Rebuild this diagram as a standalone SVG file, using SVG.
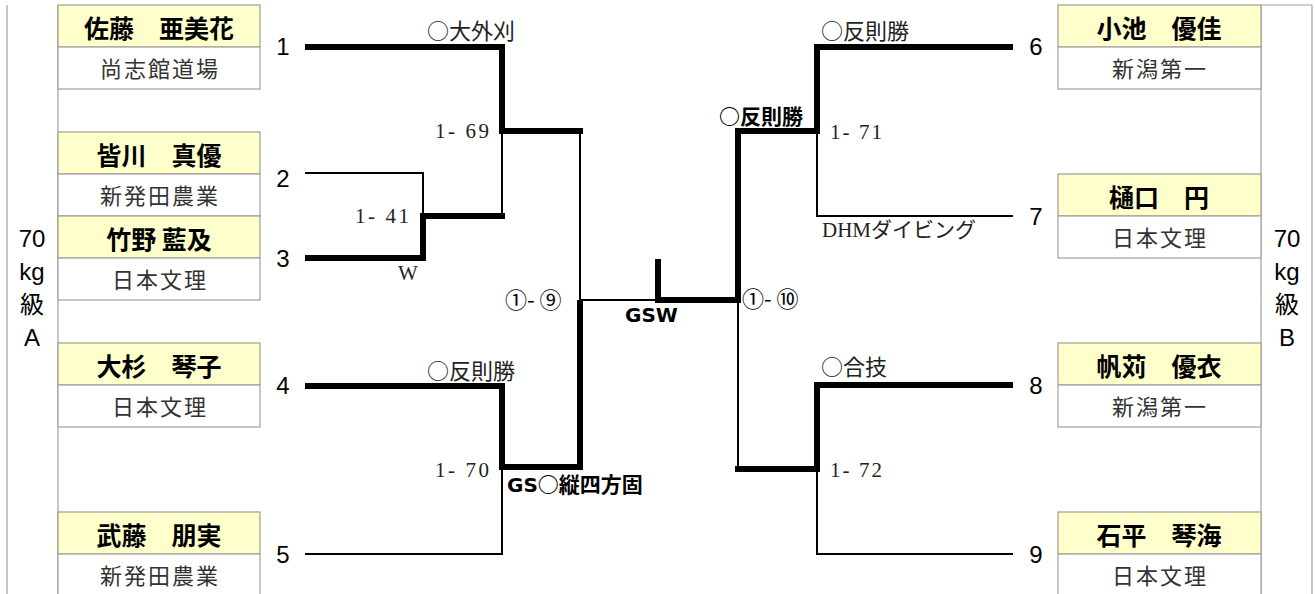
<svg xmlns="http://www.w3.org/2000/svg" width="1315" height="594" viewBox="0 0 1315 594">
<style>
.bg{fill:#ffffff}
.frame{stroke:#a0a0a0;stroke-width:1.2;fill:none}
.nm{fill:#ffffcc;stroke:#9e9e8a;stroke-width:1.2}
.tm{fill:#ffffff;stroke:#a0a0a0;stroke-width:1.2}
.name{font-family:"Noto Sans CJK JP","Liberation Sans",sans-serif;font-weight:bold;font-size:25px;fill:#000;text-anchor:middle;dominant-baseline:central}
.team{font-family:"Liberation Serif","Noto Sans CJK JP",serif;font-size:22px;fill:#333;text-anchor:middle;dominant-baseline:central;letter-spacing:2px}
.num{font-family:"Liberation Sans",sans-serif;font-size:24px;fill:#000;text-anchor:middle}
.cls{font-family:"Liberation Sans","Noto Sans CJK JP",sans-serif;font-size:24px;fill:#000;text-anchor:middle}
.sr{font-family:"Liberation Serif","Noto Sans CJK JP",serif;font-size:21px;fill:#222}
.jp{font-family:"Noto Sans CJK JP",sans-serif;font-size:22px;fill:#222}
.bd{font-family:"DejaVu Sans","Noto Sans CJK JP",sans-serif;font-size:20px;font-weight:bold;fill:#000}
.bj{font-family:"Noto Sans CJK JP",sans-serif;font-size:21px;font-weight:bold;fill:#000}
.cr{font-family:"Noto Sans CJK JP","Liberation Sans",sans-serif;font-size:22px;fill:#000}
.thick{stroke:#000;stroke-width:6;fill:none;stroke-linecap:square}
.thin{stroke:#000;stroke-width:2;fill:none}
</style>
<rect class="bg" x="0" y="0" width="1315" height="594"/>

<g id="frame-left">
<line class="frame" x1="7" y1="5" x2="7" y2="594"/>
<line class="frame" x1="58" y1="5" x2="58" y2="594"/>
<text class="cls" x="32" y="247">70</text>
<text class="cls" x="32" y="280">kg</text>
<text class="cls" x="32" y="313">級</text>
<text class="cls" x="32" y="346">A</text>
</g>
<g id="frame-right">
<line class="frame" x1="1261" y1="5" x2="1312" y2="5"/>
<line class="frame" x1="1261" y1="5" x2="1261" y2="594"/>
<line class="frame" x1="1312" y1="5" x2="1312" y2="594"/>
<text class="cls" x="1287" y="247">70</text>
<text class="cls" x="1287" y="280">kg</text>
<text class="cls" x="1287" y="313">級</text>
<text class="cls" x="1287" y="346">B</text>
</g>

<g id="p1">
<rect class="nm" x="58" y="5" width="202" height="42"/>
<rect class="tm" x="58" y="47" width="202" height="42"/>
<text class="name" x="159" y="27">佐藤　亜美花</text>
<text class="team" x="160" y="69">尚志館道場</text>
<text class="num" x="283" y="55">1</text>
</g>
<g id="p2">
<rect class="nm" x="58" y="132" width="202" height="42"/>
<rect class="tm" x="58" y="174" width="202" height="42"/>
<text class="name" x="159" y="154">皆川　真優</text>
<text class="team" x="160" y="196">新発田農業</text>
<text class="num" x="283" y="187">2</text>
</g>
<g id="p3">
<rect class="nm" x="58" y="216" width="202" height="42"/>
<rect class="tm" x="58" y="258" width="202" height="42"/>
<text class="name" x="159" y="238">竹野 藍及</text>
<text class="team" x="160" y="280">日本文理</text>
<text class="num" x="283" y="267">3</text>
</g>
<g id="p4">
<rect class="nm" x="58" y="343" width="202" height="42"/>
<rect class="tm" x="58" y="385" width="202" height="42"/>
<text class="name" x="159" y="365">大杉　琴子</text>
<text class="team" x="160" y="407">日本文理</text>
<text class="num" x="283" y="394">4</text>
</g>
<g id="p5">
<rect class="nm" x="58" y="512" width="202" height="42"/>
<rect class="tm" x="58" y="554" width="202" height="42"/>
<text class="name" x="159" y="534">武藤　朋実</text>
<text class="team" x="160" y="576">新発田農業</text>
<text class="num" x="283" y="563">5</text>
</g>

<g id="p6">
<rect class="nm" x="1058" y="5" width="203" height="42"/>
<rect class="tm" x="1058" y="47" width="203" height="42"/>
<text class="name" x="1159" y="27">小池　優佳</text>
<text class="team" x="1160" y="69">新潟第一</text>
<text class="num" x="1036" y="55">6</text>
</g>
<g id="p7">
<rect class="nm" x="1058" y="174" width="203" height="42"/>
<rect class="tm" x="1058" y="216" width="203" height="42"/>
<text class="name" x="1159" y="196">樋口　円</text>
<text class="team" x="1160" y="238">日本文理</text>
<text class="num" x="1036" y="225">7</text>
</g>
<g id="p8">
<rect class="nm" x="1058" y="343" width="203" height="42"/>
<rect class="tm" x="1058" y="385" width="203" height="42"/>
<text class="name" x="1159" y="365">帆苅　優衣</text>
<text class="team" x="1160" y="407">新潟第一</text>
<text class="num" x="1036" y="394">8</text>
</g>
<g id="p9">
<rect class="nm" x="1058" y="512" width="203" height="42"/>
<rect class="tm" x="1058" y="554" width="203" height="42"/>
<text class="name" x="1159" y="534">石平　琴海</text>
<text class="team" x="1160" y="576">日本文理</text>
<text class="num" x="1036" y="563">9</text>
</g>

<g id="connectors">
<polyline class="thin" points="305,173 423,173 423,216"/>
<line class="thin" x1="502" y1="131" x2="502" y2="216"/>
<polyline class="thin" points="305,554 502,554 502,467"/>
<line class="thin" x1="580" y1="131" x2="580" y2="300"/>
<line class="thin" x1="580" y1="300" x2="658" y2="300"/>
<polyline class="thin" points="817,131 817,216 1013,216"/>
<line class="thin" x1="738" y1="300" x2="738" y2="469"/>
<polyline class="thin" points="817,469 817,554 1013,554"/>
<polyline class="thick" points="308,47 502,47 502,131 580,131"/>
<polyline class="thick" points="308,258 423,258 423,216 502,216"/>
<polyline class="thick" points="308,386 502,386 502,467 580,467 580,303"/>
<polyline class="thick" points="658,262 658,300 738,300 738,131 817,131 817,47 1010,47"/>
<polyline class="thick" points="738,469 817,469 817,385 1010,385"/>
</g>

<g id="labels">
<text class="jp" x="427" y="39">○大外刈</text>
<text class="sr" x="489" y="138" text-anchor="end" textLength="54" lengthAdjust="spacing">1- 69</text>
<text class="sr" x="409" y="223" text-anchor="end" textLength="54" lengthAdjust="spacing">1- 41</text>
<text class="sr" x="398" y="280">W</text>
<text class="cr" x="505" y="308">①- ⑨</text>
<text class="jp" x="427" y="379">○反則勝</text>
<text class="sr" x="489" y="477" text-anchor="end" textLength="54" lengthAdjust="spacing">1- 70</text>
<text class="bd" x="507" y="492">GS<tspan class="bj">○縦四方固</tspan></text>
<text class="bd" x="625" y="322" font-size="21">GSW</text>
<text class="cr" x="742" y="307">①- ⑩</text>
<text class="bj" x="719" y="124">○反則勝</text>
<text class="jp" x="821" y="39">○反則勝</text>
<text class="sr" x="830" y="139" textLength="52" lengthAdjust="spacing">1- 71</text>
<text class="sr" x="822" y="237">DHMダイビング</text>
<text class="jp" x="821" y="375">○合技</text>
<text class="sr" x="830" y="477" textLength="52" lengthAdjust="spacing">1- 72</text>
</g>
</svg>
